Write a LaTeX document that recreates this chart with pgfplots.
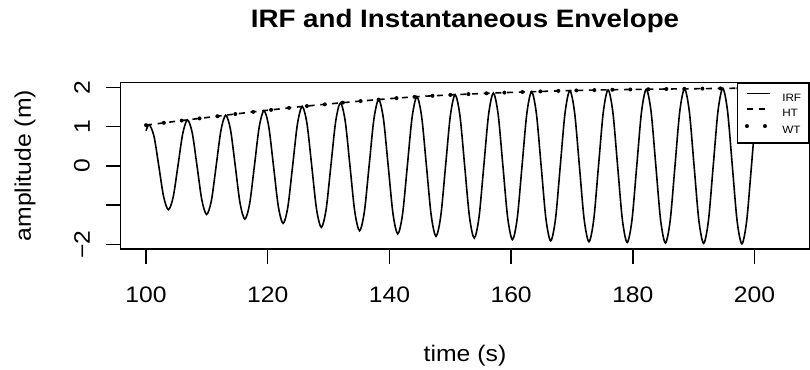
\documentclass[border=0pt]{standalone}
\usepackage{fontspec}
\setmainfont{Liberation Sans}[FakeStretch=1.1]
\usepackage{pgfplots}
\usepackage{pgfplotstable}
\pgfplotsset{compat=1.18}
\pgfplotstableread{
t A
100 1.040
105 1.140
110 1.235
115 1.330
120 1.420
125 1.505
130 1.580
135 1.650
140 1.715
145 1.770
150 1.810
155 1.845
160 1.875
165 1.900
170 1.922
175 1.938
180 1.950
185 1.960
190 1.968
195 1.977
200 1.985
}\envtable
\pgfplotstableread{
t y
100.000 0.897
100.530 1.051
101.315 0.754
102.101 0
102.886 -0.776
103.672 -1.113
104.457 -0.798
105.243 0
106.028 0.820
106.813 1.174
107.599 0.841
108.384 0
109.170 -0.862
109.955 -1.234
110.741 -0.883
111.526 0
112.312 0.904
113.097 1.294
113.883 0.926
114.668 0
115.453 -0.946
116.239 -1.352
117.024 -0.966
117.810 0
118.595 0.986
119.380 1.409
120.166 1.006
120.951 0
121.737 -1.025
122.522 -1.463
123.308 -1.044
124.093 0
124.878 1.063
125.664 1.515
126.449 1.080
127.235 0
128.020 -1.096
128.805 -1.562
129.591 -1.113
130.376 0
131.162 1.129
131.947 1.607
132.733 1.144
133.518 0
134.303 -1.160
135.089 -1.651
135.874 -1.175
136.660 0
137.445 1.189
138.230 1.692
139.016 1.204
139.801 0
140.587 -1.217
141.372 -1.730
142.158 -1.229
142.943 0
143.728 1.242
144.514 1.765
145.299 1.253
146.085 0
146.870 -1.262
147.655 -1.791
148.441 -1.271
149.226 0
150.012 1.280
150.797 1.816
151.583 1.288
152.368 0
153.153 -1.295
153.939 -1.838
154.724 -1.303
155.510 0
156.295 1.310
157.080 1.857
157.866 1.317
158.651 0
159.437 -1.323
160.222 -1.876
161.007 -1.329
161.793 0
162.578 1.335
163.364 1.892
164.149 1.341
164.934 0
165.720 -1.346
166.505 -1.907
167.291 -1.351
168.076 0
168.862 1.356
169.647 1.920
170.432 1.360
171.218 0
172.003 -1.363
172.789 -1.931
173.574 -1.367
174.359 0
175.145 1.371
175.930 1.940
176.716 1.373
177.501 0
178.286 -1.376
179.072 -1.948
179.857 -1.379
180.643 0
181.428 1.381
182.213 1.954
182.999 1.383
183.784 0
184.570 -1.385
185.355 -1.961
186.140 -1.387
186.926 0
187.711 1.389
188.497 1.966
189.282 1.391
190.067 0
190.853 -1.393
191.638 -1.971
192.424 -1.394
193.209 0
193.994 1.397
194.780 1.977
195.565 1.399
196.350 0
197.136 -1.400
197.921 -1.982
198.707 -1.402
199.492 0
200.000 0.966
}\irftable
\begin{document}
\begin{tikzpicture}
\useasboundingbox (0,0) rectangle (810bp,370bp);
\begin{axis}[
  at={(120.7bp,121bp)}, anchor=south west,
  scale only axis, width=688.6bp, height=166.7bp,
  xmin=95.84, xmax=209.0, ymin=-2.115, ymax=2.132,
  axis line style={line width=1.5bp},
  every tick/.style={line width=1.5bp, black},
  tick align=outside, tick pos=left, major tick length=15bp,
  xtick={100,120,140,160,180,200},
  xticklabels={100,120,140,160,180,200},
  ytick={-2,-1,0,1,2},
  yticklabels={−2,,0,1,2},
  tick label style={font=\fontsize{22.5}{27}\selectfont, inner sep=0pt},
  xticklabel style={anchor=north},
  yticklabel style={rotate=90, anchor=south},
  xticklabel shift=22.7bp, yticklabel shift=15.7bp,
  title={IRF and Instantaneous Envelope},
  title style={at={(axis description cs:0.5,1.2939)}, anchor=base, font=\fontsize{25.3}{30}\selectfont\bfseries, inner sep=0pt},
  xlabel={time (s)},
  xlabel style={at={(axis description cs:0.5,-0.6719)}, anchor=base, font=\fontsize{22.6}{27}\selectfont, inner sep=0pt},
  ylabel={amplitude (m)},
  ylabel style={at={(axis description cs:-0.13026,0.5)}, anchor=base, font=\fontsize{22.6}{27}\selectfont, inner sep=0pt},
  legend style={at={(1,1)}, anchor=north east, draw=black, line width=1.5bp, fill=white,
    inner xsep=7.4bp, inner ysep=9.5bp, row sep=7.3bp, column sep=10bp,
    font=\fontsize{10.7}{12}\selectfont,
    nodes={inner sep=0pt, text height=7.66bp, text depth=0pt}},
  legend cell align=left,
  legend image code/.code={\draw[#1] (0bp,3.83bp) -- (23.3bp,3.83bp);},
]
\addplot[black, line width=1.6bp, smooth] table[x=t, y=y] {\irftable};
\addlegendentry{IRF}
\addplot[black, line width=1.6bp, smooth, dash pattern=on 6bp off 5.7bp] table[x=t, y=A] {\envtable};
\addlegendentry{HT}
\addplot[black, line width=4bp, smooth, line cap=round, dash pattern=on 0bp off 18bp] table[x=t, y=A] {\envtable};
\addlegendentry{WT}
\end{axis}
\end{tikzpicture}
\end{document}
